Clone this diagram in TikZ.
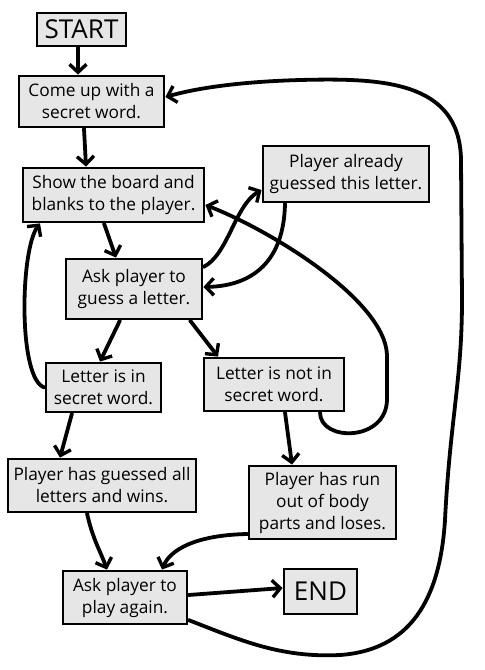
\documentclass[tikz,border=0pt]{standalone}
\usepackage{fontspec}
\setmainfont{Open Sans}
\usetikzlibrary{arrows.meta}
\definecolor{boxgray}{RGB}{230,230,230}
\tikzset{
  box/.style={draw=black, fill=boxgray, line width=2.8pt, align=center,
    inner sep=1pt, font=\fontsize{17.3}{22}\selectfont},
  conn/.style={line width=3.8pt, line cap=round, line join=round,
    -{Straight Barb[length=8pt,width=17pt,line width=3.4pt]}},
}
\begin{document}
\begin{tikzpicture}[x=1pt,y=-1pt]
\useasboundingbox (0,0) rectangle (485,670);
% nodes
\node[box, minimum width=89pt, minimum height=33pt, font=\fontsize{26}{30}\selectfont] (start) at (81.5,29.5) {START};
\node[box, minimum width=145pt, minimum height=51pt] (come) at (91.5,101.5) {Come up with a\\secret word.};
\node[box, minimum width=181pt, minimum height=54pt] (show) at (113.5,195) {Show the board and\\blanks to the player.};
\node[box, minimum width=166pt, minimum height=56pt] (already) at (346,174) {Player already\\guessed this letter.};
\node[box, minimum width=136pt, minimum height=60pt] (askg) at (134,289) {Ask player to\\guess a letter.};
\node[box, minimum width=115pt, minimum height=49pt] (lin) at (103.5,387.5) {Letter is in\\secret word.};
\node[box, minimum width=140pt, minimum height=53pt] (lnot) at (274,384.5) {Letter is not in\\secret word.};
\node[box, minimum width=188pt, minimum height=53pt] (won) at (102,485.5) {Player has guessed all\\letters and wins.};
\node[box, minimum width=147pt, minimum height=73pt] (lost) at (322.5,502.5) {Player has run\\out of body\\parts and loses.};
\node[box, minimum width=124pt, minimum height=53pt] (again) at (125,597.5) {Ask player to\\play again.};
\node[box, minimum width=73pt, minimum height=45pt, font=\fontsize{26}{30}\selectfont] (end) at (320.5,591.5) {END};
% connectors
\draw[conn] (start.south -| 78,0) -- (come.north -| 78,0);
\draw[conn] (come.south -| 84,0) -- (show.north -| 86,0);
\draw[conn] (show.south -| 104,0) -- (askg.north -| 116,0);
\draw[conn] (askg.south -| 120,0) -- (lin.north -| 100,0);
\draw[conn] (askg.south -| 190,0) -- (lnot.north -| 218,0);
\draw[conn] (lin.west) .. controls (18,380) and (20,250) .. (show.south -| 40,0);
\draw[conn] (lin.south -| 72,0) -- (won.north -| 60,0);
\draw[conn] (lnot.south -| 285,0) -- (lost.north -| 292,0);
\draw[conn] (won.south -| 87,0) .. controls (93,540) and (100,550) .. (again.north -| 107,0);
\draw[conn] (lost.west |- 0,534) .. controls (195,535) and (170,550) .. (again.north -| 162,0);
\draw[conn] (again.east |- 0,595) -- (end.west |- 0,588);
\draw[conn] (again.east |- 0,620) .. controls (240,640) and (280,658) .. (340,655)
   .. controls (410,650) and (440,600) .. (445,520)
   .. controls (450,420) and (462,380) .. (462,300) -- (461,160)
   .. controls (460,80) and (380,78) .. (300,80)
   .. controls (230,82) and (190,90) .. (come.east |- 0,97);
\draw[conn] (askg.east |- 0,267) .. controls (228,255) and (235,205) .. (already.west |- 0,190);
\draw[conn] (already.south -| 285,0) .. controls (284,262) and (252,286) .. (askg.east |- 0,287);
\draw[conn] (lnot.south -| 320,0) .. controls (320,442) and (386,442) .. (387,400) -- (387,355)
   .. controls (385,300) and (270,230) .. (show.east |- 0,205);
\end{tikzpicture}
\end{document}
